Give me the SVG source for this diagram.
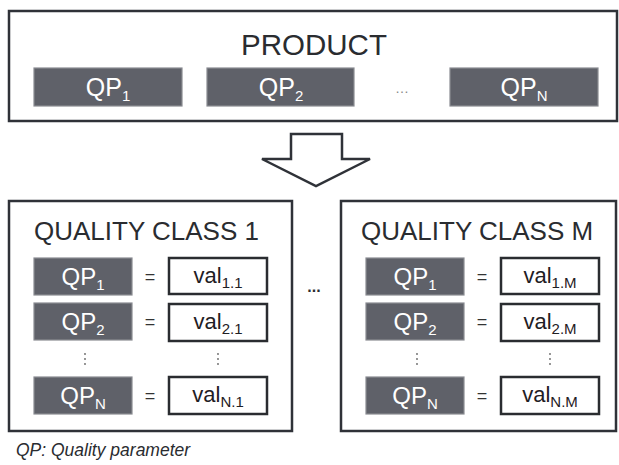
<svg xmlns="http://www.w3.org/2000/svg" width="619" height="465" viewBox="0 0 619 465">
<style>
.frame{fill:#fff;stroke:#2f3238;stroke-width:2.5}
.qp{fill:#5f6169;stroke:#8a8c92;stroke-width:1.2}
.val{fill:#fff;stroke:#2a2c30;stroke-width:2.5}
.t{font-family:"Liberation Sans",Arial,sans-serif}
.title{font-size:26px;fill:#2a2c30}
.qpt{font-size:24px;fill:#fff;text-anchor:middle}
.qpt.big{font-size:25px}
.valt{font-size:22px;fill:#1f2024;text-anchor:middle}
.sub{font-size:15px}
.eq{font-size:18px;fill:#333;text-anchor:middle}
.vd{fill:#666}
</style>
<g id="product">
<rect class="frame" x="9" y="11" width="608" height="110"/>
<text class="t" x="314" y="55" font-size="29.5" fill="#2a2c30" text-anchor="middle">PRODUCT</text>
<g id="top-qp1"><rect class="qp" x="34" y="68" width="148" height="38"/><text class="t qpt big" x="108" y="96">QP<tspan class="sub" dy="5">1</tspan></text></g>
<g id="top-qp2"><rect class="qp" x="207" y="68" width="147" height="38"/><text class="t qpt big" x="281" y="96">QP<tspan class="sub" dy="5">2</tspan></text></g>
<text class="t" x="402" y="93" font-size="14" fill="#888" text-anchor="middle">…</text>
<g id="top-qpn"><rect class="qp" x="450" y="68" width="148" height="38"/><text class="t qpt big" x="524" y="96">QP<tspan class="sub" dy="5">N</tspan></text></g>
</g>
<g id="connectors">
<polygon class="frame" points="291,134 342,134 342,159 370,159 316,186 262,159 291,159"/>
</g>
<g id="class1">
<rect class="frame" x="9" y="201" width="283" height="230"/>
<text class="t title" x="34" y="240">QUALITY CLASS 1</text>
<rect class="qp" x="34" y="258" width="98" height="37"/><text class="t qpt" x="83" y="285">QP<tspan class="sub" dy="5">1</tspan></text>
<text class="t eq" x="150" y="283">=</text>
<rect class="val" x="169" y="258" width="98" height="36"/><text class="t valt" x="218" y="283">val<tspan class="sub" dy="5">1.1</tspan></text>
<rect class="qp" x="34" y="303" width="98" height="37"/><text class="t qpt" x="83" y="330">QP<tspan class="sub" dy="5">2</tspan></text>
<text class="t eq" x="150" y="328">=</text>
<rect class="val" x="169" y="304" width="98" height="37"/><text class="t valt" x="218" y="329">val<tspan class="sub" dy="5">2.1</tspan></text>
<g class="vd"><circle cx="85" cy="354" r="0.9"/><circle cx="85" cy="359" r="0.9"/><circle cx="85" cy="364" r="0.9"/><circle cx="218" cy="354" r="0.9"/><circle cx="218" cy="359" r="0.9"/><circle cx="218" cy="364" r="0.9"/></g>
<rect class="qp" x="34" y="377" width="98" height="37"/><text class="t qpt" x="83" y="404">QP<tspan class="sub" dy="5">N</tspan></text>
<text class="t eq" x="150" y="402">=</text>
<rect class="val" x="169" y="377" width="98" height="37"/><text class="t valt" x="218" y="402">val<tspan class="sub" dy="5">N.1</tspan></text>
</g>
<text class="t" x="314" y="292" font-size="16" font-weight="bold" fill="#2a2c30" text-anchor="middle">...</text>
<g id="classM">
<rect class="frame" x="341" y="201" width="275" height="230"/>
<text class="t title" x="361" y="240">QUALITY CLASS M</text>
<rect class="qp" x="366" y="258" width="98" height="37"/><text class="t qpt" x="415" y="285">QP<tspan class="sub" dy="5">1</tspan></text>
<text class="t eq" x="482" y="283">=</text>
<rect class="val" x="501" y="258" width="98" height="36"/><text class="t valt" x="550" y="283">val<tspan class="sub" dy="5">1.M</tspan></text>
<rect class="qp" x="366" y="303" width="98" height="37"/><text class="t qpt" x="415" y="330">QP<tspan class="sub" dy="5">2</tspan></text>
<text class="t eq" x="482" y="328">=</text>
<rect class="val" x="501" y="304" width="98" height="37"/><text class="t valt" x="550" y="329">val<tspan class="sub" dy="5">2.M</tspan></text>
<g class="vd"><circle cx="417" cy="354" r="0.9"/><circle cx="417" cy="359" r="0.9"/><circle cx="417" cy="364" r="0.9"/><circle cx="550" cy="354" r="0.9"/><circle cx="550" cy="359" r="0.9"/><circle cx="550" cy="364" r="0.9"/></g>
<rect class="qp" x="366" y="377" width="98" height="37"/><text class="t qpt" x="415" y="404">QP<tspan class="sub" dy="5">N</tspan></text>
<text class="t eq" x="482" y="402">=</text>
<rect class="val" x="501" y="377" width="98" height="37"/><text class="t valt" x="550" y="402">val<tspan class="sub" dy="5">N.M</tspan></text>
</g>
<text class="t" x="16" y="456" font-size="17.5" font-style="italic" fill="#2a2c30">QP: Quality parameter</text>
</svg>
